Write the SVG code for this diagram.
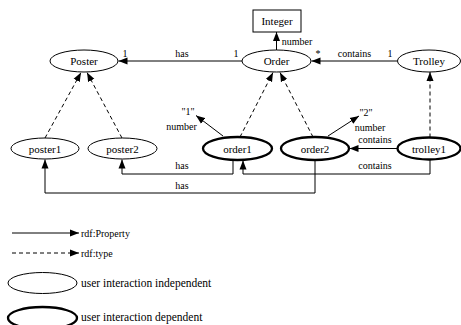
<svg xmlns="http://www.w3.org/2000/svg" width="461" height="325" viewBox="0 0 461 325">
<defs>
<marker id="ah" markerUnits="userSpaceOnUse" markerWidth="10" markerHeight="8" refX="9" refY="4" orient="auto">
<path d="M0,0.5 L9,4 L0,7.5 Z" fill="#000"/>
</marker>
<style>
text{font-family:"Liberation Serif","Times New Roman",serif;fill:#000}
.n{font-size:11px;text-anchor:middle}
.l{font-size:10px;text-anchor:middle}
.lg{font-size:10px}
.lg2{font-size:11.5px}
.thin{fill:#fff;stroke:#000;stroke-width:1}
.thick{fill:#fff;stroke:#000;stroke-width:2.3}
.e{fill:none;stroke:#000;stroke-width:1;marker-end:url(#ah)}
.d{fill:none;stroke:#000;stroke-width:1;stroke-dasharray:4,3;marker-end:url(#ah)}
</style>
</defs>
<rect width="461" height="325" fill="#fff"/>
<g id="connectors">
<path class="e" d="M242,61 H118.5"/>
<path class="e" d="M397,61 H311.5"/>
<path class="e" d="M276.5,50 V32"/>
<path class="d" d="M45,138 L81,72.5"/>
<path class="d" d="M122,138 L87,72.5"/>
<path class="d" d="M240,137 L273,72.5"/>
<path class="d" d="M313,137 L280,72.5"/>
<path class="d" d="M430,137.5 V72"/>
<path class="e" d="M223,136 L196,115.5"/>
<path class="e" d="M328,136 L359,116"/>
<path class="e" d="M397,148.5 H349.5"/>
<path class="e" d="M233,160 V174 H122 V159.5"/>
<path class="e" d="M315,160 V193 H45 V159.5"/>
<path class="e" d="M430,159.5 V174 H243 V160.5"/>
<text class="l" x="125" y="57">1</text>
<text class="l" x="182" y="57">has</text>
<text class="l" x="236" y="57">1</text>
<text class="l" x="297" y="45">number</text>
<text class="l" x="318" y="57">*</text>
<text class="l" x="354.5" y="57">contains</text>
<text class="l" x="390" y="57">1</text>
<text class="l" x="188" y="115">"1"</text>
<text class="l" x="181.5" y="130">number</text>
<text class="l" x="366" y="116">"2"</text>
<text class="l" x="370" y="131">number</text>
<text class="l" x="375" y="143">contains</text>
<text class="l" x="182" y="169">has</text>
<text class="l" x="182" y="189">has</text>
<text class="l" x="375" y="169">contains</text>
</g>
<g id="Integer"><rect class="thin" x="253" y="10" width="48" height="22"/><text class="n" x="277" y="25">Integer</text></g>
<g id="Poster"><ellipse class="thin" cx="84" cy="61" rx="34" ry="11"/><text class="n" x="84" y="65">Poster</text></g>
<g id="Order"><ellipse class="thin" cx="276.5" cy="61" rx="34.5" ry="11"/><text class="n" x="276.5" y="65">Order</text></g>
<g id="Trolley"><ellipse class="thin" cx="429" cy="61" rx="31.5" ry="11"/><text class="n" x="429" y="65">Trolley</text></g>
<g id="poster1"><ellipse class="thin" cx="45" cy="148.5" rx="34" ry="10.5"/><text class="n" x="45" y="152.5">poster1</text></g>
<g id="poster2"><ellipse class="thin" cx="122.5" cy="148.5" rx="34.5" ry="10.5"/><text class="n" x="122.5" y="152.5">poster2</text></g>
<g id="order1"><ellipse class="thick" cx="237.5" cy="148.5" rx="34.5" ry="11.5"/><text class="n" x="237.5" y="152.5">order1</text></g>
<g id="order2"><ellipse class="thick" cx="315" cy="148.5" rx="34" ry="11.5"/><text class="n" x="315" y="152.5">order2</text></g>
<g id="trolley1"><ellipse class="thick" cx="429" cy="148.5" rx="31.5" ry="11"/><text class="n" x="429" y="152.5">trolley1</text></g>
<g id="legend">
<path class="e" d="M12,233 H79"/>
<text class="lg" x="81" y="237">rdf:Property</text>
<path class="d" d="M12,253 H79"/>
<text class="lg" x="81" y="257">rdf:type</text>
<ellipse class="thin" cx="42.5" cy="283" rx="34.5" ry="10.5"/>
<text class="lg2" x="81" y="287">user interaction independent</text>
<ellipse class="thick" cx="42.5" cy="318" rx="34.5" ry="11"/>
<text class="lg2" x="81" y="321">user interaction dependent</text>
</g>
</svg>
